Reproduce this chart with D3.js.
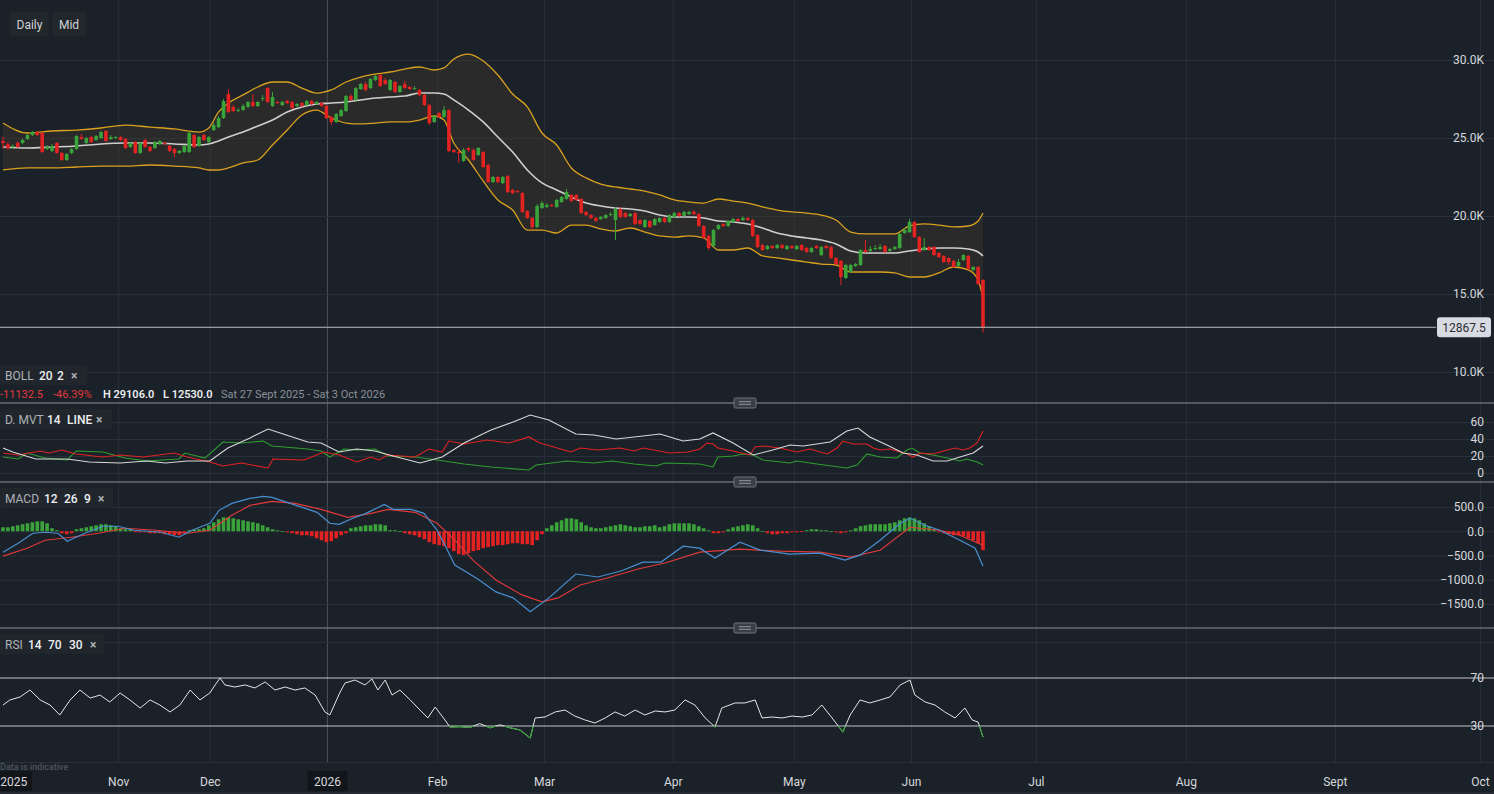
<!DOCTYPE html>
<html><head><meta charset="utf-8">
<script src="https://cdn.jsdelivr.net/npm/d3@7"></script>
<style>
html,body{margin:0;padding:0;background:#1b2129;overflow:hidden}
svg{display:block;font-family:Roboto,"Liberation Sans",sans-serif}
</style></head><body>
<svg id="c" width="1494" height="794"></svg>
<script>
// ---------------- DATA ----------------
// daily candles [open, high, low, close], one per bar index
const ohlc = [
[24810,25100,24300,24680],[24610,24750,24250,24360],[24420,24600,24300,24490],[24680,24800,24350,24420],[24680,24950,24600,24870],
[24940,25260,24870,25190],[25190,25450,25130,25380],[25380,25450,25130,25190],[25320,25380,24040,24100],[24290,24550,24230,24420],
[24170,24610,24100,24490],[24680,24740,23970,24040],[24040,24100,23530,23590],[23590,24040,23530,23970],[24040,24360,23970,24290],
[24290,25190,24230,25130],[25060,25260,24870,24940],[24680,25060,24610,25000],[25060,25130,24680,24740],[24870,25190,24810,25130],
[25000,25450,24940,25380],[25450,25510,24740,24810],[24940,25190,24870,25060],[25000,25130,24940,25060],[25060,25130,24810,24870],
[24940,25000,24290,24360],[24420,24740,24360,24680],[24740,24810,23970,24040],[24040,24740,23970,24680],[24870,24940,24360,24420],
[24420,24490,24100,24170],[24360,24810,24290,24740],[24610,24870,24550,24810],[24680,24740,24550,24610],[24490,24550,24100,24170],
[24290,24360,23780,24040],[24040,24230,23970,24170],[24100,24550,24040,24490],[24100,25380,24040,25320],[25190,25260,24360,24420],
[24490,25130,24420,25060],[25190,25260,24810,24870],[24740,25130,24680,25060],[25510,25960,25450,25830],[25700,26410,25640,26280],
[26280,27500,26220,27370],[27820,28140,26600,26670],[26990,27110,26670,26730],[26790,26920,26670,26800],[26790,27180,26730,27050],
[26990,27370,26920,27310],[27310,27820,26990,27050],[27050,27370,26990,27310],[27500,27760,27370,27560],[28200,28270,27240,27310],
[27050,27950,26990,27630],[27310,27370,27180,27240],[27110,27370,27050,27310],[27370,27440,27180,27240],[27310,27370,26860,26920],
[27050,27240,26990,27180],[27240,27310,26990,27050],[27110,27440,27050,27370],[27370,27440,27110,27180],[27180,27370,27110,27310],
[27240,27310,26990,27050],[27050,27110,26220,26280],[26350,26410,25830,26030],[26030,26600,25960,26540],[26410,26860,26350,26790],
[26730,27760,26670,27690],[27690,27820,27370,27440],[27440,28270,27370,28200],[28140,28520,28080,28460],[28460,28590,28000,28080],
[28200,28850,28140,28780],[28720,29040,28650,28970],[29040,29106,28270,28330],[28720,28850,28400,28460],[28080,28780,28000,28720],
[28590,28650,27880,27950],[27950,28400,27880,28330],[28460,28650,28140,28200],[28270,28330,28080,28140],[28140,28330,28080,28200],
[28080,28140,27690,27760],[27760,27820,27050,27110],[27110,27180,25830,25960],[26030,26470,25960,26410],[26600,26670,26280,26350],
[26350,27050,26280,26790],[26790,26860,24100,24170],[24230,24290,24040,24100],[24100,24360,23400,24040],[23530,24360,23470,24230],
[24360,24420,24100,24230],[24230,24360,23530,23590],[23910,24420,23850,24360],[24100,24170,23080,23140],[23270,23400,22110,22180],
[22180,22560,22110,22500],[22500,22560,22110,22180],[22110,22560,22050,22500],[22560,22630,21470,21540],[21670,21730,21410,21470],
[21600,21670,21470,21540],[21470,21540,20190,20260],[20320,20380,19810,19870],[19870,19940,19100,19290],[19290,20770,19230,20640],
[20510,20960,20450,20830],[20580,20830,20510,20700],[20700,20770,20580,20640],[20580,21090,20510,21030],[20900,21280,20830,21220],
[21090,21730,21030,21540],[21350,21410,20900,20960],[21350,21410,20960,21030],[21090,21150,20130,20190],[20260,20320,20000,20060],
[20060,20130,19810,19870],[19870,19940,19620,19680],[19810,20000,19740,19940],[19870,20130,19810,20060],[20060,20260,20000,20130],
[19740,20570,18460,20450],[20450,20570,19870,19940],[20190,20260,19870,19940],[20000,20190,19940,20130],[20190,20260,19420,19490],
[19740,19810,19420,19490],[19290,19810,19230,19740],[19680,19740,19230,19290],[19420,19870,19360,19810],[19620,19940,19550,19870],
[19870,19940,19550,19620],[19620,20130,19550,20060],[19940,20260,19870,20190],[20190,20260,19940,20000],[20000,20320,19940,20260],
[20130,20320,20060,20260],[20260,20380,20060,20130],[20130,20190,19290,19360],[19360,19420,18520,18590],[18720,18780,17820,17950],
[18080,19170,18010,19100],[19170,19490,19100,19420],[19490,19550,19290,19360],[19360,19740,19290,19680],[19620,19870,19550,19810],
[19810,19870,19620,19680],[19740,20000,19680,19870],[19870,19940,19680,19740],[19740,19810,18650,18720],[18780,18850,17950,18010],
[18140,18210,17760,17820],[17880,18140,17820,18080],[18080,18140,17880,17950],[17950,18210,17880,18140],[18140,18210,17880,17950],
[17880,18140,17820,18080],[18080,18140,17880,17950],[17880,18140,17820,18080],[18140,18210,17760,17820],[17950,18010,17630,17690],
[17690,18010,17630,17950],[18080,18140,17880,17950],[17500,18080,17440,18010],[18080,18140,17880,17950],[18010,18080,17240,17310],
[17310,17370,16860,16920],[17120,17180,15580,16090],[16030,16920,15960,16860],[16410,16920,16350,16860],[16800,16990,16730,16920],
[16860,17880,16800,17820],[17820,18460,17630,17690],[17760,18080,17690,17880],[17880,18140,17820,17950],[17880,18210,17820,18010],
[18080,18140,17630,17690],[17760,17950,17690,17880],[17880,18080,17820,18010],[17950,18910,17880,18850],[18910,19230,18850,19100],
[18970,19810,18910,19620],[19620,19680,18590,18650],[18650,18720,17630,17690],[17820,18590,17760,18010],[18010,18080,17760,17820],
[18010,18080,17440,17500],[17630,17690,17310,17370],[17440,17500,16990,17050],[17310,17370,16860,17050],[17120,17180,16670,16730],
[16800,17240,16730,17050],[17180,17560,17120,17500],[17440,17500,16540,16600],[16540,16790,16470,16730],[16730,16790,15580,15640],
[15900,15960,12530,12867.5]
];
const lastPrice = 12867.5;

// Bollinger (20,2) read at these bar indices
const bollIdx = [0,5,10,15,20,25,30,35,40,42,44,46,49,52,55,58,61,64,67,70,73,76,79,82,85,88,90,92,95,98,101,104,107,110,113,116,119,122,125,128,131,134,137,140,143,146,149,152,155,158,161,164,167,170,173,176,179,182,185,188,191,194,197,199,200];
const bollUp = [25960,25320,25450,25510,25640,25830,25700,25580,25380,25640,26670,27240,27760,28270,28590,28590,28200,27880,28080,28590,28910,29100,29230,29420,29550,29360,29490,30060,30380,29940,29040,27820,26990,25320,24550,23080,22440,22050,21860,21730,21600,21350,21030,20900,20830,21090,20960,20830,20580,20380,20260,20190,20060,19740,18970,18850,18850,18850,19360,19490,19420,19300,19360,19680,20190];
const bollMid = [24420,24360,24420,24490,24620,24680,24680,24620,24550,24620,24810,25060,25380,25770,26150,26670,26990,27180,27240,27310,27440,27560,27630,27690,27880,27880,27820,27440,26790,26030,25060,24100,22950,22120,21670,21220,20830,20640,20510,20450,20320,20060,19940,19940,19870,19680,19620,19490,19230,18910,18720,18590,18460,18210,17760,17630,17630,17630,17760,17880,17950,17950,17880,17690,17440];
const bollLow = [22950,23080,23080,23140,23200,23200,23270,23200,23080,22950,22950,23080,23400,23590,24550,25510,26470,26790,26280,25960,25900,25960,26030,26030,26150,26410,26150,24680,23590,22240,21030,20380,19100,19100,18910,19420,19420,19170,19040,19230,18970,18720,18650,18720,18590,17820,17820,17950,17440,17310,17180,17050,16920,16860,16410,16410,16410,16350,16090,16090,16350,16730,16540,15900,14740];

// D. MVT (14): [bar index, value]
const dmiAdx = [[0,29.4],[2,24.7],[6.7,16.5],[13.1,16.5],[17.6,12.9],[23.9,11.8],[29.4,14.1],[33.1,11.8],[37.6,14.1],[42.2,14.1],[45.9,29.4],[50.4,41.2],[54.1,51.8],[57.8,44.7],[62.2,36.5],[64.9,35.3],[68.6,24.7],[72.2,28.2],[75.9,25.9],[79.6,20],[85.1,11.8],[89.6,18.8],[94.1,35.3],[99.6,50.6],[104.1,60],[107.6,68.2],[111.4,62.4],[116.9,45.9],[120.6,44.7],[125.1,40],[128.8,42.4],[134.1,45.9],[138.8,37.6],[142.2,40],[144.9,47.1],[149,35.3],[153.1,21.2],[157.1,27.1],[160.6,32.9],[163.3,31.8],[168.8,36.5],[172.2,49.4],[174.5,52.9],[176.9,42.4],[180.4,32.9],[183.7,23.5],[186.5,21.2],[189.8,14.1],[192.7,14.1],[195.3,18.8],[198,23.5],[200,31.8]];
const dmiMinus = [[0,23.5],[3.1,21.2],[7.6,25.9],[9.4,23.5],[12,27.1],[14.9,22.4],[20.4,18.8],[23.9,21.2],[28.6,18.8],[34.9,23.5],[37.6,18.8],[42.2,12.9],[44.9,8.2],[48.6,11.8],[54.1,5.9],[55.1,16.5],[61.4,15.3],[65.5,24.7],[68.6,21.2],[72.2,12.9],[75.1,18.8],[76.7,15.3],[78.6,21.2],[84.1,18.8],[86.9,28.2],[89.6,24.7],[91,37.6],[94.1,34.1],[98.8,38.8],[103.3,35.3],[107.3,42.4],[109.6,35.3],[115.9,24.7],[117.8,29.4],[121.4,27.1],[125.9,29.4],[128.8,25.9],[130.6,29.4],[136.1,23.5],[139.8,24.7],[142.2,28.2],[143.7,35.3],[144.9,34.1],[145.9,29.4],[149,25.9],[152.4,21.2],[153.5,30.6],[155.1,31.8],[158.6,29.4],[162,24.7],[164.7,28.2],[168.2,22.4],[170.2,29.4],[171.4,37.6],[173.5,34.1],[176.3,34.1],[177.6,29.4],[179,27.1],[181,28.2],[184.5,22.4],[185.7,18.8],[187.1,23.5],[189.8,22.4],[192.7,27.1],[194.3,29.4],[195.9,27.1],[197.3,29.4],[198.8,35.3],[200,49.4]];
const dmiPlus = [[0,18.8],[3.1,16.5],[4.9,23.5],[8.6,17.6],[13.1,15.3],[14.9,25.9],[20.4,24.7],[24.9,17.6],[29.4,14.1],[35.9,16.5],[37.1,23.5],[41.2,17.6],[44.9,36.5],[48.6,35.3],[53.1,37.6],[54.9,31.8],[62.2,28.2],[64.9,25.9],[66.7,18.8],[69.6,28.2],[72.2,27.1],[75.9,28.2],[78.6,20],[84.1,18.8],[88.6,15.3],[94.1,10.6],[99.6,7.1],[107.3,3.5],[108.8,9.4],[115.1,14.1],[120.6,11.8],[124.3,14.1],[128.8,10.6],[133.3,8.2],[135.1,11.8],[142.2,10.6],[144.9,7.1],[145.9,18.8],[149,20],[151,22.4],[153.1,21.2],[155.1,15.3],[160.6,11.8],[162,14.1],[166.1,10.6],[172.2,5.9],[174.3,9.4],[176.3,22.4],[179,18.8],[182.4,17.6],[184.5,27.1],[185.5,29.4],[187.1,23.5],[189.8,21.2],[192.7,17.6],[195.3,14.1],[196.7,16.5],[198.8,12.9],[200,9.4]];

// MACD (12,26,9)
const macdLine = [[0,-431],[3.1,-246],[6.1,-41],[8.6,-21],[11.2,-41],[13.1,-205],[16.7,-41],[20.4,103],[23.5,103],[26.7,21],[32.2,-21],[35.9,-123],[38.6,21],[42.2,164],[44.1,431],[46.7,574],[50.4,677],[53.1,718],[54.9,697],[58.6,574],[64.1,390],[66.7,164],[68.6,144],[71.4,267],[74.1,369],[77.8,554],[79.6,451],[83.3,451],[85.9,369],[88.6,21],[90.4,-328],[92.2,-697],[96.9,-984],[100.6,-1251],[104.1,-1374],[107.6,-1661],[111.4,-1374],[116.9,-882],[121.4,-943],[126.1,-820],[130.6,-636],[134.3,-636],[138.8,-308],[142.2,-349],[145.3,-554],[150.4,-226],[154.5,-390],[160.6,-472],[166.7,-451],[171.8,-595],[174.9,-492],[179,-185],[183.1,164],[185.1,267],[188.2,123],[191.2,21],[195.3,-185],[198.4,-349],[200,-718]];
const macdSignal = [[0,-513],[4.9,-349],[8.6,-185],[13.9,-123],[19.4,-41],[24.9,62],[31.2,21],[37.6,-41],[42.2,21],[46.7,328],[50.4,533],[54.9,615],[59.6,574],[64.9,451],[70.4,287],[75.1,369],[78.6,451],[84.1,390],[88.6,164],[92.2,-185],[95.9,-595],[100.6,-1005],[105.9,-1312],[110,-1456],[113.3,-1374],[117.8,-1107],[123.3,-964],[129.6,-779],[135.1,-656],[142.2,-431],[150.4,-369],[158.6,-410],[166.7,-431],[172.9,-533],[179,-390],[185.1,82],[191.2,21],[195.3,-82],[200,-287]];
const macdHist = [82,82,103,123,144,164,185,205,205,164,62,21,-41,-62,-41,41,62,82,103,123,144,144,123,103,62,41,41,-21,-21,-21,-41,-41,-41,-62,-62,-82,-82,-41,21,41,41,62,123,185,246,287,287,267,246,226,205,185,164,123,82,41,21,5,-21,-41,-62,-82,-82,-103,-144,-185,-226,-205,-144,-82,-41,62,82,103,123,123,144,144,123,21,21,5,-41,-62,-82,-123,-164,-226,-267,-287,-308,-349,-410,-472,-492,-451,-410,-390,-349,-328,-308,-287,-287,-267,-246,-246,-267,-267,-287,-185,-62,62,123,185,226,267,267,246,185,123,82,62,62,82,103,123,144,123,103,82,82,103,103,123,82,103,144,164,164,164,164,144,103,62,21,-41,-41,-21,41,82,103,123,144,123,62,5,-41,-62,-62,-41,-41,-21,-21,-10,21,41,41,21,21,5,-21,-41,-21,21,62,103,123,144,144,144,144,164,185,226,267,287,267,226,164,103,41,-21,-41,-62,-82,-82,-103,-144,-185,-246,-390];

// RSI (14)
const rsiLine = [[0,47.5],[1.4,51.7],[3.5,54.2],[5.5,60],[7.6,51.7],[9.6,47.5],[11.6,39.2],[13.7,51.7],[15.7,60],[17.8,53.3],[19.8,55.8],[21.8,50],[23.9,57.5],[25.9,51.7],[28,45],[30,51.7],[32,47.5],[34.1,41.7],[36.1,47.5],[38.2,60],[40.2,51.7],[42.2,57.5],[43.3,64.2],[44.3,70],[45.3,64.2],[47.3,62.5],[49.4,64.2],[51.4,61.7],[53.5,66.7],[55.5,60],[57.6,62.5],[59.6,60],[61.6,61.7],[63.7,55.8],[65.7,41.7],[66.7,39.2],[68.8,58.3],[69.8,65.8],[71.8,68.3],[73.9,64.2],[75.3,69.2],[76.5,60],[78,68.3],[79.4,55.8],[81,60],[83.1,51.7],[85.1,43.3],[86.7,36.7],[88.2,45.8],[90.2,35],[91.2,29.2],[93.3,29.5],[95.3,28.8],[97.3,32],[99.4,28.5],[101.4,31],[103.5,28.5],[105.5,26.7],[107.6,20],[108.6,36.7],[110.6,37.5],[112.7,41.7],[114.7,43.3],[116.7,38.3],[118.8,35],[120.8,32.5],[122.9,36.7],[124.9,41.7],[126.9,38.3],[129,43.3],[131,39.2],[133.1,42.5],[135.1,41.7],[137.1,43.3],[139.2,51.7],[141.2,47.5],[143.3,36.7],[145.3,29.2],[146.7,45],[149.4,49.2],[151.4,49.2],[153.5,51.7],[154.9,36.7],[156.9,37.5],[159,36.7],[161,38.3],[163.1,37.5],[165.1,39.2],[167.1,47.5],[169.2,36.7],[171.4,25],[172.9,39.2],[174.9,51.7],[176.9,49.2],[179,51.7],[181,54.2],[183.1,64.2],[185.1,68.3],[186.1,55.8],[188.2,50],[190.2,47.5],[192.2,41.7],[194.3,36.7],[196.3,45],[197.8,35],[199,33.3],[200,20.8]];

// axes
const monthIdx = [23.5,42.2,66.1,88.6,110.4,136.7,161.4,185.3,210.8,241.4,271.8,301.4];
const monthLabels = ["Nov","Dec","2026","Feb","Mar","Apr","May","Jun","Jul","Aug","Sept","Oct"];
const firstYearIdx = 2.2, firstYearLabel = "2025";
const priceTicks = [10000,15000,20000,25000,30000];
const dmiTicks = [0,20,40,60];
const macdTicks = [-1500,-1000,-500,0,500];
const rsiTicks = [30,70];

// ---------------- DRAW ----------------
const W=1494,H=794;
const svg=d3.select('#c');
const BG='#1b2129', GRID='#29303a', TXT='#d6d8dc', UP='#3aa33a', DN='#e32222';
svg.append('rect').attr('width',W).attr('height',H).attr('fill',BG);

const x=d3.scaleLinear().domain([-3/4.9,(W-3)/4.9]).range([0,W]);
const yP=d3.scaleLinear().domain([10000,30000]).range([372,60]);
const yD=d3.scaleLinear().domain([0,60]).range([473,422]);
const yM=d3.scaleLinear().domain([-1500,500]).range([604,507]);
const yR=d3.scaleLinear().domain([0,100]).range([762,642]);

// vertical grid
const vg=svg.append('g').attr('transform','translate(0,763)')
  .call(d3.axisBottom(x).tickValues(monthIdx).tickSize(-763).tickFormat(''));
vg.select('.domain').remove();
vg.selectAll('.tick line').attr('stroke',(d,i)=>monthLabels[i]==='2026'?'#4b525c':GRID);

// horizontal grid helper
function hgrid(scale,ticks){
  const g=svg.append('g').attr('transform',`translate(${W},0)`)
    .call(d3.axisLeft(scale).tickValues(ticks).tickSize(W).tickFormat(''));
  g.select('.domain').remove();
  g.selectAll('.tick line').attr('stroke',GRID);
  return g;
}
function labels(scale,ticks,fmt){
  const g=svg.append('g').attr('transform','translate(1487,0)')
    .call(d3.axisLeft(scale).tickValues(ticks).tickSize(0).tickPadding(3).tickFormat(fmt));
  g.select('.domain').remove();
  g.selectAll('text').attr('fill',TXT).style('font-size','12px').style('font-family','Roboto,"Liberation Sans",sans-serif');
  return g;
}
hgrid(yP,priceTicks);
hgrid(yD,dmiTicks);
hgrid(yM,macdTicks);
hgrid(yR,[0,100]);

// Bollinger band
const bpts=bollIdx.map((d,i)=>({i:d,u:bollUp[i],m:bollMid[i],l:bollLow[i]}));
const pclip=svg.append('clipPath').attr('id','pc').append('rect').attr('x',0).attr('y',0).attr('width',W).attr('height',402);
const pg=svg.append('g').attr('clip-path','url(#pc)');
pg.append('path').datum(bpts)
  .attr('d',d3.area().x(d=>x(d.i)).y0(d=>yP(d.l)).y1(d=>yP(d.u)).curve(d3.curveMonotoneX))
  .attr('fill','rgba(70,62,45,0.32)');
['u','l'].forEach(k=>{
  pg.append('path').datum(bpts)
    .attr('d',d3.line().x(d=>x(d.i)).y(d=>yP(d[k])).curve(d3.curveMonotoneX))
    .attr('fill','none').attr('stroke','#d9a11f').attr('stroke-width',1.3);
});
pg.append('path').datum(bpts)
  .attr('d',d3.line().x(d=>x(d.i)).y(d=>yP(d.m)).curve(d3.curveMonotoneX))
  .attr('fill','none').attr('stroke','#cfcfcf').attr('stroke-width',1.6);

// candles
const cg=pg.append('g');
ohlc.forEach((c,i)=>{
  const [o,h,l,cl]=c, col=cl>=o?UP:DN;
  cg.append('line').attr('x1',x(i)).attr('x2',x(i)).attr('y1',yP(h)).attr('y2',yP(l)).attr('stroke',col).attr('stroke-width',1);
  const y0=yP(Math.max(o,cl)), y1=yP(Math.min(o,cl));
  cg.append('rect').attr('x',x(i)-1.8).attr('width',3.6).attr('y',y0).attr('height',Math.max(1,y1-y0)).attr('fill',col);
});

// last price line
svg.append('line').attr('x1',0).attr('x2',1436).attr('y1',yP(lastPrice)).attr('y2',yP(lastPrice)).attr('stroke','#b9bdc4').attr('stroke-width',1);
labels(yP,priceTicks,d=>(d/1000).toFixed(1)+'K');
svg.append('rect').attr('x',1437).attr('y',yP(lastPrice)-10).attr('width',54).attr('height',20).attr('rx',3).attr('fill','#d8dbe1');
svg.append('text').attr('x',1464).attr('y',yP(lastPrice)+4.5).attr('text-anchor','middle').attr('fill','#2a2e35').style('font-size','12px').text(d3.format('.1f')(lastPrice));

// DMI
const lineGen=(sc)=>d3.line().x(d=>x(d[0])).y(d=>sc(d[1]));
[[dmiPlus,'#2f9e2f'],[dmiMinus,'#e02222'],[dmiAdx,'#d8d8d8']].forEach(([s,c])=>{
  svg.append('path').datum(s).attr('d',lineGen(yD)).attr('fill','none').attr('stroke',c).attr('stroke-width',1.1);
});
labels(yD,dmiTicks,d=>d);

// MACD
svg.append('g').selectAll('rect').data(macdHist).join('rect')
  .attr('x',(d,i)=>x(i)-1.8).attr('width',3.6)
  .attr('y',d=>d>=0?yM(d):yM(0)).attr('height',d=>Math.max(0.8,Math.abs(yM(d)-yM(0))))
  .attr('fill',d=>d>=0?UP:DN);
svg.append('path').datum(macdSignal).attr('d',lineGen(yM)).attr('fill','none').attr('stroke','#e03a3a').attr('stroke-width',1.1);
svg.append('path').datum(macdLine).attr('d',lineGen(yM)).attr('fill','none').attr('stroke','#4a8fd0').attr('stroke-width',1.2);
labels(yM,macdTicks,d3.format('.1f'));

// RSI
rsiTicks.forEach(t=>svg.append('line').attr('x1',0).attr('x2',W).attr('y1',yR(t)).attr('y2',yR(t)).attr('stroke','#c4c6ca').attr('stroke-width',1));
svg.append('path').datum(rsiLine).attr('d',lineGen(yR)).attr('fill','none').attr('stroke','#e6e6e6').attr('stroke-width',1);
svg.append('clipPath').attr('id','rc').append('rect').attr('x',0).attr('y',yR(30)).attr('width',W).attr('height',yR(0)-yR(30));
svg.append('path').datum(rsiLine).attr('d',lineGen(yR)).attr('fill','none').attr('stroke','#2f9e2f').attr('stroke-width',1.1).attr('clip-path','url(#rc)');
labels(yR,rsiTicks,d=>d);

// separators + handles
[403,482,628].forEach(y=>{
  svg.append('line').attr('x1',0).attr('x2',W).attr('y1',y).attr('y2',y).attr('stroke','#666c75').attr('stroke-width',1.5);
  svg.append('rect').attr('x',734).attr('y',y-5).attr('width',22).attr('height',10).attr('rx',1.5).attr('fill','#3a3f47').attr('stroke','#6e747d');
  [-1.3,1.3].forEach(dy=>svg.append('line').attr('x1',739).attr('x2',751).attr('y1',y+dy).attr('y2',y+dy).attr('stroke','#9aa0a8').attr('stroke-width',0.9));
});
svg.append('line').attr('x1',0).attr('x2',W).attr('y1',793).attr('y2',793).attr('stroke','#30363f');

// x axis labels
const xa=svg.append('g').attr('transform','translate(0,774)')
  .call(d3.axisBottom(x).tickValues(monthIdx).tickSize(0).tickPadding(3).tickFormat((d,i)=>monthLabels[i]));
xa.select('.domain').remove();
xa.selectAll('.tick').each(function(d,i){
  const t=d3.select(this);
  if(monthLabels[i]==='2026'){
    t.insert('rect','text').attr('x',-20).attr('y',-3).attr('width',40).attr('height',20).attr('fill','#12161b');
  }
});
xa.selectAll('text').attr('fill',TXT).style('font-size','12px').style('font-family','Roboto,"Liberation Sans",sans-serif');
svg.append('rect').attr('x',0).attr('y',771).attr('width',32).attr('height',20).attr('fill','#12161b');
svg.append('text').attr('x',x(firstYearIdx)).attr('y',786).attr('text-anchor','middle').attr('fill',TXT).style('font-size','12px').text(firstYearLabel);
svg.append('text').attr('x',0).attr('y',770).attr('fill','#58606a').style('font-size','9px').text('Data is indicative');

// top buttons
[['Daily',10,39],['Mid',52,34]].forEach(([t,bx,bw])=>{
  svg.append('rect').attr('x',bx).attr('y',12).attr('width',bw).attr('height',24).attr('rx',2).attr('fill','#22272c');
  svg.append('text').attr('x',bx+bw/2).attr('y',29).attr('text-anchor','middle').attr('fill','#d0d2d5').style('font-size','12px').text(t);
});

// indicator legends
function legend(y,w,parts){
  svg.append('rect').attr('x',0).attr('y',y).attr('width',w).attr('height',20).attr('rx',2).attr('fill','#21262d');
  parts.forEach(([t,px,c,fw])=>svg.append('text').attr('x',px).attr('y',y+14.5).attr('fill',c).style('font-size','12px').style('font-weight',fw||400).text(t));
}
const LG='#aeb2b8', LW='#eceef0';
legend(365,87,[['BOLL',5,LG],['20',39,LW,500],['2',57,LW,500],['×',71,LG,700]]);
legend(409,112,[['D. MVT',5,LG],['14',47,LW,500],['LINE',67,LW,500],['×',96,LG,700]]);
legend(488,113,[['MACD',5,LG],['12',44,LW,500],['26',64,LW,500],['9',84,LW,500],['×',98,LG,700]]);
legend(634,104,[['RSI',5,LG],['14',28,LW,500],['70',48,LW,500],['30',69,LW,500],['×',90,LG,700]]);

// info row
const info=svg.append('text').attr('y',398).style('font-size','11px');
[['-11132.5','#e03a3a',0],['-46.39%','#e03a3a',53],['H 29106.0','#eceef0',103],['L 12530.0','#eceef0',163],['Sat 27 Sept 2025 - Sat 3 Oct 2026','#8a9098',221]]
 .forEach(([t,c,px])=>svg.append('text').attr('x',px).attr('y',398).attr('fill',c).style('font-size','11px').style('font-weight',t.startsWith('H')||t.startsWith('L ')?600:400).text(t));
</script>
</body></html>
